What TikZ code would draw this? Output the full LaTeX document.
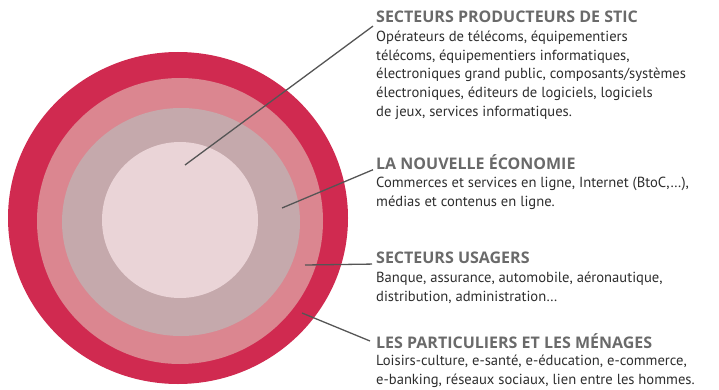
\documentclass[tikz,border=0pt]{standalone}
\usepackage{fontspec}
\setmainfont{PT Sans}
\newfontfamily\headfont{Open Sans}
\usetikzlibrary{positioning}
\definecolor{ringout}{HTML}{D02A50}
\definecolor{ringsalmon}{HTML}{DB8690}
\definecolor{ringmauve}{HTML}{C5A9AC}
\definecolor{ringcore}{HTML}{EAD4D7}
\definecolor{headgray}{HTML}{6A6A6A}
\definecolor{bodygray}{HTML}{2E2E2E}
\definecolor{linegray}{HTML}{555555}
\tikzset{
    head/.style={anchor=west, inner sep=0pt, text=headgray,
        font=\headfont\bfseries\fontsize{16}{18}\selectfont},
    body/.style={inner sep=0pt, align=left, text=bodygray,
        font=\fontsize{14.6}{18.8}\selectfont},
    pointer/.style={draw=linegray, line width=1.3pt}
}

\begin{document}
\begin{tikzpicture}[x=1pt,y=-1pt]
    \useasboundingbox (0,0) rectangle (719,390);
    % the four rings
    \fill[ringout] (178,218) ellipse [x radius=170, y radius=166];
    \fill[ringsalmon] (180,221) circle [radius=143];
    \fill[ringmauve] (181,222) ellipse [x radius=119, y radius=114];
    \fill[ringcore] (180,220) circle [radius=78];
    % points inside the rings
    \coordinate (pprod) at (185,165);
    \coordinate (peco) at (282,208);
    \coordinate (pusa) at (305,265);
    \coordinate (ppart) at (302,313);
    % headings and texts
    \node[head] (hprod) at (376,17) {SECTEURS PRODUCTEURS DE STIC};
    \node[body, below right=7.5pt and 0pt of hprod.south west] (tprod)
        {Opérateurs de télécoms, équipementiers\\
         télécoms, équipementiers informatiques,\\
         électroniques grand public, composants/systèmes\\
         électroniques, éditeurs de logiciels, logiciels\\
         de jeux, services informatiques.};
    \node[head] (heco) at (376,162) {LA NOUVELLE ÉCONOMIE};
    \node[body, below right=7.5pt and 0pt of heco.south west] (teco)
        {Commerces et services en ligne, Internet (BtoC,…),\\
         médias et contenus en ligne.};
    \node[head] (husa) at (376,258) {SECTEURS USAGERS};
    \node[body, below right=7.5pt and 0pt of husa.south west] (tusa)
        {Banque, assurance, automobile, aéronautique,\\
         distribution, administration…};
    \node[head] (hpart) at (376,341) {LES PARTICULIERS ET LES MÉNAGES};
    \node[body, below right=6.5pt and 0pt of hpart.south west] (tpart)
        {Loisirs-culture, e-santé, e-éducation, e-commerce,\\
         e-banking, réseaux sociaux, lien entre les hommes.};
    % pointers
    \draw[pointer] (pprod) -- ([shift={(-3pt,-3pt)}]hprod.south west);
    \draw[pointer] (peco) -- ([xshift=-3pt]heco.south west);
    \draw[pointer] (pusa) -- ([xshift=-4pt]husa.south west);
    \draw[pointer] (ppart) -- ([xshift=-6pt]hpart.west);
\end{tikzpicture}
\end{document}
